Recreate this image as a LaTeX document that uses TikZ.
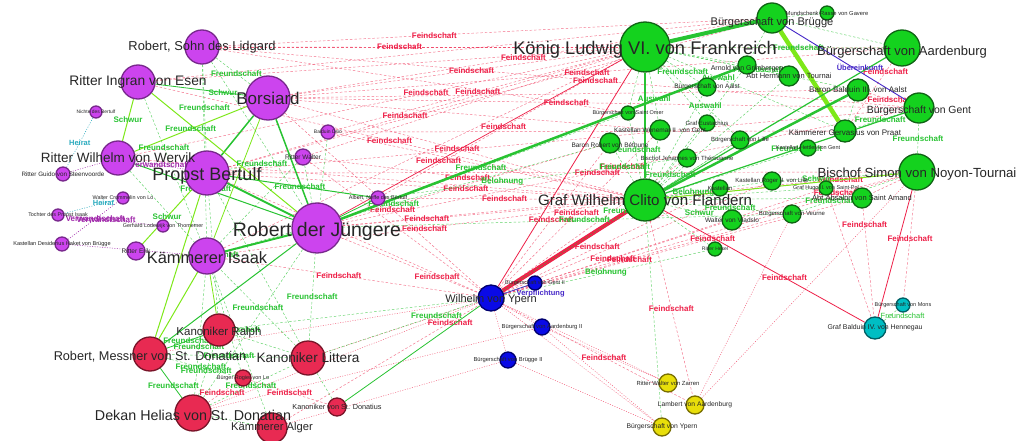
\documentclass[tikz,border=0pt]{standalone}
\usepackage{fontspec}
\setmainfont{Liberation Sans}
\pgfdeclarelayer{bgfill}
\pgfdeclarelayer{edges}
\pgfsetlayers{bgfill,edges,main}
\newcommand\fsz[1]{\fontsize{#1}{#1}\selectfont}
\definecolor{pf}{RGB}{204,68,238}
\definecolor{pd}{RGB}{120,40,140}
\definecolor{gf}{RGB}{20,210,30}
\definecolor{gdk}{RGB}{15,100,20}
\definecolor{rf}{RGB}{232,42,82}
\definecolor{rdk}{RGB}{120,20,40}
\definecolor{bfl}{RGB}{10,10,230}
\definecolor{bdk}{RGB}{0,0,110}
\definecolor{yf}{RGB}{232,222,10}
\definecolor{ydk}{RGB}{120,110,0}
\definecolor{cf}{RGB}{0,190,195}
\definecolor{cdk}{RGB}{0,95,100}
\definecolor{ered}{RGB}{238,32,72}
\definecolor{egreen}{RGB}{40,195,50}
\definecolor{elime}{RGB}{125,232,25}
\definecolor{epurp}{RGB}{160,40,170}
\definecolor{eteal}{RGB}{40,170,190}
\definecolor{eblue}{RGB}{70,40,200}
\tikzset{
  nd/.style={circle,inner sep=0pt,line width=1.3pt},
  P/.style={nd,fill=pf,draw=pd,minimum size=#1},
  G/.style={nd,fill=gf,draw=gdk,minimum size=#1},
  R/.style={nd,fill=rf,draw=rdk,minimum size=#1},
  B/.style={nd,fill=bfl,draw=bdk,minimum size=#1},
  Y/.style={nd,fill=yf,draw=ydk,minimum size=#1},
  C/.style={nd,fill=cf,draw=cdk,minimum size=#1},
  nl/.style={inner sep=0pt,text=black!85,font=\fsz{#1}},
  fd/.style={draw=ered,line width=0.45pt,dash pattern=on 2.5pt off 2pt,draw opacity=.65},
  fdt/.style={draw=ered,line width=0.45pt,dash pattern=on 1pt off 1.5pt,draw opacity=.75},
  fs/.style={draw=ered,line width=#1},
  gdash/.style={draw=egreen,line width=0.45pt,dash pattern=on 2.5pt off 2pt,draw opacity=.75},
  gs/.style={draw=egreen,line width=#1},
  ls/.style={draw=elime,line width=#1},
  el/.style={inner sep=0.3pt,font=\bfseries\fsz{8}},
  fl/.style={el,text=ered},
  gl/.style={el,text=egreen},
}
\begin{document}
\begin{tikzpicture}[x=1pt,y=-1pt]
\begin{pgfonlayer}{bgfill}\fill[white] (0,0) rectangle (1025,441);\end{pgfonlayer}
\useasboundingbox (0,0) rectangle (1025,441);
% ---------- purple
\node[P=34] (lidgard) at (202,47) {};
\node[P=34] (ingran) at (138,82) {};
\node[P=44] (borsiard) at (268,98) {};
\node[P=12] (nichte) at (96,112) {};
\node[P=14] (baldsio) at (328,132) {};
\node[P=34] (wervik) at (118,158) {};
\node[P=14] (guido) at (63,174) {};
\node[P=44] (bertulf) at (207,173) {};
\node[P=16] (walter) at (303,157) {};
\node[P=12] (crommelin) at (123,198) {};
\node[P=12] (tochter) at (58,215) {};
\node[P=12] (gerhard) at (163,226) {};
\node[P=14] (haket) at (62,244) {};
\node[P=18] (erik) at (136,251) {};
\node[P=36] (isaak) at (207,256) {};
\node[P=50] (rjung) at (317,228) {};
\node[P=14] (albert) at (378,198) {};
% ---------- red
\node[R=32] (ralph) at (219,330) {};
\node[R=34] (messner) at (150,354) {};
\node[R=34] (littera) at (308,358) {};
\node[R=16] (rogier) at (243,378) {};
\node[R=36] (helias) at (193,413) {};
\node[R=18] (donatius) at (337,407) {};
\node[R=30] (alger) at (272,428) {};
% ---------- blue
\node[B=26] (ypern) at (491,298) {};
\node[B=14] (bl2) at (535,283) {};
\node[B=16] (aard2) at (542,327) {};
\node[B=16] (brug2) at (508,360) {};
% ---------- yellow
\node[Y=18] (zarren) at (668,383) {};
\node[Y=18] (lambert) at (695,405) {};
\node[Y=18] (bypern) at (662,427) {};
% ---------- cyan
\node[C=14] (mons) at (903,305) {};
\node[C=22] (hennegau) at (875,328) {};
% ---------- green
\node[G=50] (ludwig) at (645,47) {};
\node[G=30] (brugge) at (772,18) {};
\node[G=14] (gavere) at (827,13) {};
\node[G=36] (aardenburg) at (902,48) {};
\node[G=18] (arnold) at (747,65) {};
\node[G=20] (hermann) at (789,76) {};
\node[G=18] (aalst) at (707,87) {};
\node[G=22] (balduin) at (858,90) {};
\node[G=30] (gent) at (919,108) {};
\node[G=22] (gervasius) at (845,131) {};
\node[G=14] (omer) at (628,113) {};
\node[G=16] (eustach) at (707,123) {};
\node[G=20] (wenemar) at (660,130) {};
\node[G=18] (lilleb) at (740,140) {};
\node[G=20] (bethune) at (610,143) {};
\node[G=16] (ghentb) at (808,148) {};
\node[G=18] (theroux) at (687,158) {};
\node[G=16] (kastx) at (720,188) {};
\node[G=18] (roger) at (772,181) {};
\node[G=14] (hugo) at (826,188) {};
\node[G=20] (absalon) at (862,198) {};
\node[G=36] (simon) at (917,172) {};
\node[G=42] (clito) at (645,200) {};
\node[G=20] (vladslo) at (732,220) {};
\node[G=18] (veurne) at (792,214) {};
\node[G=14] (rittery) at (715,249) {};
% ---------- labels
\node[nl=12.9] (lidgard-t) at (lidgard) {Robert, Sohn des Lidgard};
\node[nl=13.8] (ingran-t) at (ingran) {Ritter Ingran von Esen};
\node[nl=17] (borsiard-t) at (borsiard) {Borsiard};
\node[nl=4.9] (nichte-t) at (nichte) {Nichte des Bertulf};
\node[nl=5] (baldsio-t) at (baldsio) {Balduin Dsio};
\node[nl=13.5] (wervik-t) at (wervik) {Ritter Wilhelm von Wervik};
\node[nl=6.3] (guido-t) at (guido) {Ritter Guido von Steenvoorde};
\node[nl=18] (bertulf-t) at ([yshift=-3pt]bertulf) {Propst Bertulf};
\node[nl=6.5] (walter-t) at (walter) {Ritter Walter};
\node[nl=5.4] (crommelin-t) at (crommelin) {Walter Crommelin von Lo};
\node[nl=5.4] (tochter-t) at (tochter) {Tochter des Propst Isaak};
\node[nl=5.4] (gerhard-t) at (gerhard) {Gerhard Lodewijk von Thomemer};
\node[nl=5.6] (haket-t) at (haket) {Kastellan Desiderius Haket von Brügge};
\node[nl=6.5] (erik-t) at (erik) {Ritter Erik};
\node[nl=16.4] (isaak-t) at ([yshift=-2pt]isaak) {Kämmerer Isaak};
\node[nl=19.5] (rjung-t) at ([yshift=-3pt]rjung) {Robert der Jüngere};
\node[nl=5.5] (albert-t) at (albert) {Albert, Neffe des Bertulf};
\node[nl=11.5] (ralph-t) at ([yshift=-3pt]ralph) {Kanoniker Ralph};
\node[nl=12.7] (messner-t) at ([yshift=-3pt]messner) {Robert, Messner von St. Donatian};
\node[nl=13.6] (littera-t) at (littera) {Kanoniker Littera};
\node[nl=5.5] (rogier-t) at (rogier) {Bürger Rogier von Lo};
\node[nl=14.3] (helias-t) at ([yshift=-2pt]helias) {Dekan Helias von St. Donatian};
\node[nl=7.3] (donatius-t) at (donatius) {Kanoniker von St. Donatius};
\node[nl=11.2] (alger-t) at (alger) {Kämmerer Alger};
\node[nl=11] (ypern-t) at ([yshift=-2pt]ypern) {Wilhelm von Ypern};
\node[nl=5.5] (bl2-t) at (bl2) {Bürgerschaft von Gent II};
\node[nl=5.8] (aard2-t) at (aard2) {Bürgerschaft von Aardenburg II};
\node[nl=5.8] (brug2-t) at (brug2) {Bürgerschaft von Brügge II};
\node[nl=5.9] (zarren-t) at (zarren) {Ritter Walter von Zarren};
\node[nl=6.7] (lambert-t) at (lambert) {Lambert von Aardenburg};
\node[nl=6.8] (bypern-t) at (bypern) {Bürgerschaft von Ypern};
\node[nl=5.5] (mons-t) at (mons) {Bürgerschaft von Mons};
\node[nl=6.9] (hennegau-t) at (hennegau) {Graf Balduin IV. von Hennegau};
\node[nl=18.3] (ludwig-t) at ([yshift=-3pt]ludwig) {König Ludwig VI. von Frankreich};
\node[nl=11.1] (brugge-t) at ([yshift=-5pt]brugge) {Bürgerschaft von Brügge};
\node[nl=5.8] (gavere-t) at (gavere) {Mundschenk Rasse von Gavere};
\node[nl=13] (aardenburg-t) at ([yshift=-4pt]aardenburg) {Bürgerschaft von Aardenburg};
\node[nl=7] (arnold-t) at ([yshift=-4pt]arnold) {Arnold von Grimbergen};
\node[nl=7.5] (hermann-t) at (hermann) {Abt Hermann von Tournai};
\node[nl=6.5] (aalst-t) at (aalst) {Bürgerschaft von Aalst};
\node[nl=8.1] (balduin-t) at (balduin) {Baron Balduin III. von Aalst};
\node[nl=10.4] (gent-t) at ([yshift=-3pt]gent) {Bürgerschaft von Gent};
\node[nl=8] (gervasius-t) at ([yshift=-2pt]gervasius) {Kämmerer Gervasius von Praat};
\node[nl=5.5] (omer-t) at (omer) {Bürgerschaft von Saint Omer};
\node[nl=6] (eustach-t) at (eustach) {Graf Eustachius};
\node[nl=6.5] (wenemar-t) at (wenemar) {Kastellan Wenemar II. von Gent};
\node[nl=6] (lilleb-t) at (lilleb) {Bürgerschaft von Lille};
\node[nl=6.5] (bethune-t) at ([yshift=-2pt]bethune) {Baron Robert von Béthune};
\node[nl=5.5] (ghentb-t) at (ghentb) {Kastellan Hettler von Gent};
\node[nl=6] (theroux-t) at (theroux) {Bischof Johannes von Thérouanne};
\node[nl=6] (kastx-t) at (kastx) {Kastellan};
\node[nl=6] (roger-t) at (roger) {Kastellan Roger II. von Lille};
\node[nl=5.5] (hugo-t) at (hugo) {Graf Hugo II. von Saint-Pol};
\node[nl=7.5] (absalon-t) at (absalon) {Abt Absalon von Saint Amand};
\node[nl=13.2] (simon-t) at ([yshift=-2pt]simon) {Bischof Simon von Noyon-Tournai};
\node[nl=15.1] (clito-t) at (clito) {Graf Wilhelm Clito von Flandern};
\node[nl=6.5] (vladslo-t) at (vladslo) {Walter von Vladslo};
\node[nl=6] (veurne-t) at (veurne) {Bürgerschaft von Veurne};
\node[nl=5] (rittery-t) at (rittery) {Ritter Hesel};
% ---------- edges
\begin{pgfonlayer}{edges}
% red dashed enmity
\foreach \a/\b/\p in {lidgard/ludwig/.45,lidgard/brugge/.4,borsiard/brugge/.5,borsiard/aardenburg/.5,borsiard/ludwig/.55,borsiard/clito/.5,borsiard/gent/.45,bertulf/ludwig/.45,bertulf/simon/.55,baldsio/ludwig/.5,ingran/clito/.5,walter/clito/.5,rjung/clito/.3,rjung/gent/.5,isaak/clito/.5,albert/clito/.5,albert/ludwig/.5,isaak/ypern/.45,rjung/ypern/.7,borsiard/ypern/.55,ypern/wenemar/.5,ypern/vladslo/.5,ypern/veurne/.45,ypern/absalon/.6,ypern/kastx/.45,ypern/bethune/.5,ypern/lambert/.55,clito/lambert/.5,clito/simon/.75,balduin/gent/.6,aardenburg/gervasius/.15,simon/mons/.45,absalon/hennegau/.15,vladslo/simon/.6,rogier/donatius/.5,rogier/helias/.5,alger/ypern/.85,lidgard/gent/.55,wervik/ludwig/.6,bertulf/clito/.6}
  \draw[fd] (\a) -- node[fl,pos=\p]{Feindschaft} (\b);
\foreach \a/\b in {lidgard/aardenburg,borsiard/balduin,bertulf/gent,baldsio/gervasius,ingran/ludwig,walter/ludwig,rjung/simon,wervik/clito,rjung/bethune,bertulf/ypern,walter/ypern,ypern/roger,ypern/hugo,ypern/simon,ypern/theroux,simon/absalon,hugo/hennegau,lidgard/omer,borsiard/wenemar,isaak/ludwig,baldsio/clito,bertulf/brugge,ingran/brugge}
  \draw[fd] (\a) -- (\b);
\foreach \a/\b in {ypern/aard2,ypern/brug2,ypern/bypern,ypern/zarren,aard2/zarren,brug2/bypern,aard2/bypern,veurne/lambert,helias/ypern,littera/ypern,messner/ypern,simon/lambert,helias/aard2,alger/brug2}
  \draw[fdt] (\a) -- (\b);
% red solid
\draw[fs=4] (ypern) -- (clito);
\draw[fs=.8] (ypern) -- (ludwig);
\draw[fs=.8] (clito) -- node[fl,pos=.6]{Feindschaft} (hennegau);
\draw[fs=.8] (simon) -- (hennegau);
\draw[fs=.7] (rjung) -- node[fl,pos=.35]{Feindschaft} (ludwig);
% green solid
\draw[gs=2.2] (ludwig) -- (clito);
\draw[gs=4] (ludwig) -- (brugge);
\draw[ls=4.5] (brugge) -- (gervasius);
\draw[gs=2.5] (clito) -- (balduin);
\draw[gs=2.5] (rjung) -- (arnold);
\draw[gs=1.2] (clito) -- node[gl,pos=.55]{Freundschaft} (gent);
\draw[gs=1.2] (clito) -- (aardenburg);
\draw[gs=2] (bertulf) -- (rjung);
\draw[gs=2] (isaak) -- (rjung);
\draw[gs=1.5] (borsiard) -- (bertulf);
\draw[gs=1.5] (borsiard) -- (rjung);
\draw[ls=1] (ingran) -- (rjung);
\draw[ls=1] (ingran) -- node[gl]{Schwur} (wervik);
\draw[gs=.8] (ingran) -- node[gl,pos=.75]{Schwur} (borsiard);
\draw[ls=1] (wervik) -- node[gl]{Freundschaft} (borsiard);
\draw[gs=1] (wervik) -- node[gl,pos=.45]{Freundschaft} (rjung);
\draw[gs=1] (bertulf) -- node[gl]{Freundschaft} (albert);
\draw[gs=.8] (albert) -- (rjung);
\draw[ls=1] (messner) -- (isaak);
\draw[ls=1] (messner) -- (bertulf);
\draw[gs=1] (messner) -- (rjung);
\draw[gs=.8] (messner) -- node[gl,pos=.6]{Freundschaft} (ralph);
\draw[ls=.8] (ralph) -- (isaak);
\draw[gs=.8] (donatius) -- (ypern);
\draw[ls=1] (erik) -- node[gl]{Schwur} (bertulf);
\draw[ls=.8] (isaak) -- (borsiard);
\draw[gs=.8] (messner) -- node[gl,pos=.6]{Freundschaft} (helias);
\draw[ls=1] (clito) -- (simon);
% green dashed friendship
\foreach \a/\b/\p/\t in {lidgard/bertulf/.5/Freundschaft,lidgard/borsiard/.6/Freundschaft,ingran/isaak/.35/Freundschaft,messner/littera/.5/Freundschaft,ralph/helias/.5/Freundschaft,helias/littera/.5/Freundschaft,littera/rjung/.5/Freundschaft,littera/isaak/.5/Freundschaft,ralph/bertulf/.5/Freundschaft,helias/isaak/.4/Freundschaft,alger/isaak/.6/Freundschaft,rogier/messner/.5/Freundschaft,ludwig/aardenburg/.6/Freundschaft,ludwig/aalst/.5/Freundschaft,ludwig/wenemar/.55/Auswahl,ludwig/lilleb/.6/Auswahl,ludwig/balduin/.5/Freundschaft,clito/omer/.5/Freundschaft,clito/bethune/.5/Freundschaft,clito/theroux/.5/Freundschaft,clito/kastx/.6/Belohnung,clito/vladslo/.6/Schwur,clito/veurne/.55/Freundschaft,gent/gervasius/.5/Freundschaft,gent/simon/.5/Freundschaft,roger/simon/.3/Schwur,veurne/simon/.3/Freundschaft,ludwig/gervasius/.3/Auswahl,rjung/omer/.5/Freundschaft,albert/theroux/.4/Belohnung,isaak/bethune/.45/Freundschaft,ypern/rittery/.5/Belohnung,rjung/veurne/.55/Freundschaft,ypern/lilleb/.55/Freundschaft,littera/bl2/.55/Freundschaft,walter/bertulf/.5/Freundschaft}
  \draw[gdash] (\a) -- node[gl,pos=\p]{\t} (\b);
\foreach \a/\b in {lidgard/isaak,lidgard/rjung,walter/isaak,walter/rjung,wervik/isaak,baldsio/rjung,ralph/littera,helias/alger,rogier/isaak,littera/bertulf,helias/rjung,ralph/ypern,ludwig/omer,ludwig/eustach,ludwig/hermann,clito/wenemar,clito/eustach,clito/roger,clito/hugo,clito/absalon,clito/ghentb,clito/lilleb,clito/hermann,clito/arnold,clito/aalst,balduin/gervasius,brugge/aardenburg,brugge/arnold,clito/bypern,clito/rittery,brugge/gavere,ludwig/arnold,donatius/littera}
  \draw[gdash] (\a) -- (\b);
\draw[gdash] (hennegau) -- node[pos=.5,inner sep=0.3pt,font=\fsz{7.5},text=egreen,xshift=12pt,yshift=-1pt]{Freundschaft} (mons);
% other relations
\draw[draw=eblue,line width=.9pt] (brugge) -- node[pos=.62,above,inner sep=1pt,font=\bfseries\fsz{7.5},text=eblue]{Übereinkunft} (gent);
\draw[draw=eblue,line width=.7pt] (ypern) -- node[below right,inner sep=0.5pt,font=\bfseries\fsz{7.5},text=eblue]{Verpflichtung} (bl2);
\draw[draw=eteal,line width=.5pt,dash pattern=on 1pt off 1.5pt] (nichte) -- node[inner sep=0.3pt,font=\bfseries\fsz{7.5},text=eteal]{Heirat} (guido);
\draw[draw=eteal,line width=.5pt,dash pattern=on 1pt off 1.5pt] (crommelin) -- node[inner sep=0.3pt,font=\bfseries\fsz{7.5},text=eteal,pos=.25]{Heirat} (tochter);
\draw[draw=epurp,line width=.5pt,dash pattern=on 1pt off 1.5pt] (gerhard) -- node[inner sep=0.3pt,font=\bfseries\fsz{8},text=epurp,pos=.55]{Verwandtschaft} (tochter);
\draw[draw=epurp,line width=.5pt,dash pattern=on 1pt off 1.5pt] (haket) -- node[inner sep=0.3pt,font=\bfseries\fsz{8},text=epurp,pos=.55]{Verwandtschaft} (crommelin);
\draw[draw=epurp,line width=.5pt,dash pattern=on 1pt off 1.5pt] (wervik) -- node[inner sep=0.3pt,font=\bfseries\fsz{8},text=epurp]{Verwandtschaft} (bertulf);
\draw[draw=epurp,line width=.5pt,dash pattern=on 1pt off 1.5pt] (guido) -- (wervik);
\draw[draw=epurp,line width=.5pt,dash pattern=on 1pt off 1.5pt] (haket) -- (isaak);
\end{pgfonlayer}
\end{tikzpicture}
\end{document}
